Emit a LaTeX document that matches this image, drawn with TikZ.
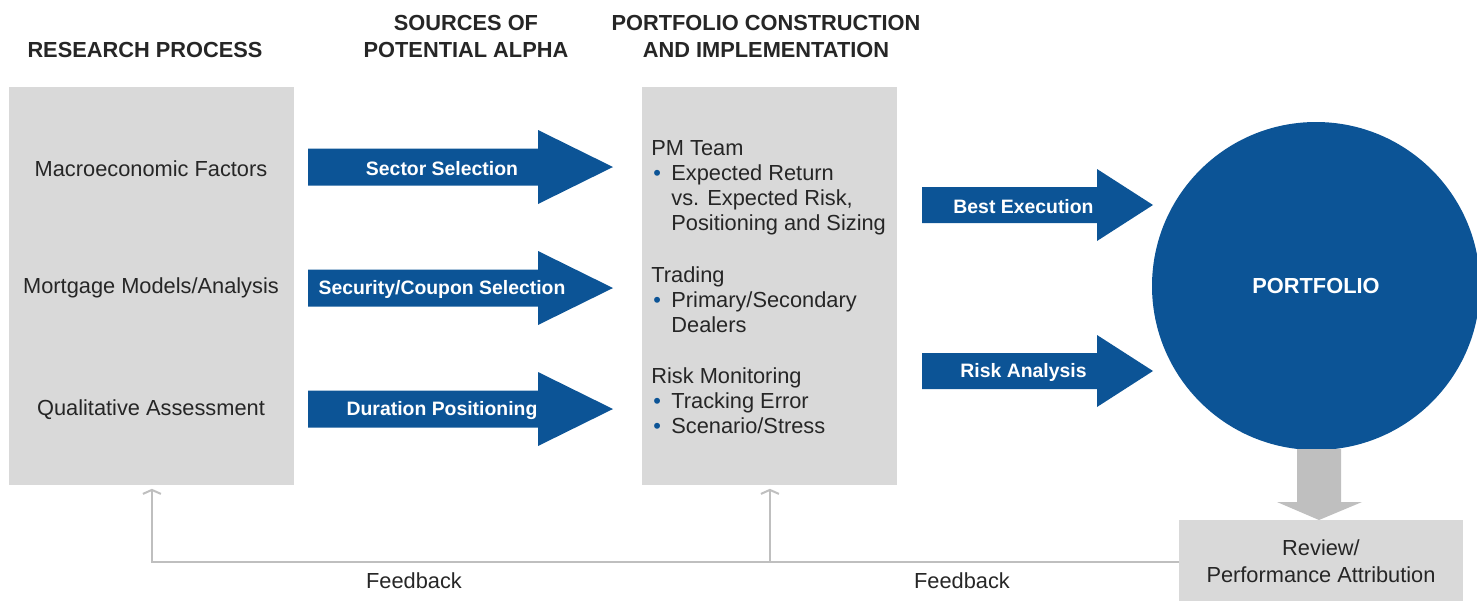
\documentclass[tikz,border=0pt]{standalone}
\usepackage{fontspec}
\setmainfont{Liberation Sans}
\usepackage{xcolor}
\usepackage{tikz}
\usetikzlibrary{arrows.meta,positioning}

\definecolor{pfblue}{RGB}{12,84,150}
\definecolor{boxgray}{RGB}{217,217,217}
\definecolor{linegray}{RGB}{191,191,191}
\definecolor{inkgray}{RGB}{38,38,38}

\newcommand{\headfont}{\fontsize{10.9pt}{13.5pt}\selectfont\bfseries}
\newcommand{\bodyfont}{\fontsize{10.9pt}{12.5pt}\selectfont}
\newcommand{\arrowfont}{\fontsize{9.7pt}{11pt}\selectfont\bfseries}
\newcommand{\bul}{\makebox[10pt][l]{\hspace{1pt}\textcolor{pfblue}{\textbullet}}}
\newcommand{\ind}{\hspace*{10pt}}

% block arrow: name, x left, x head base, x tip, y, half body, label x, label
\newcommand{\blockarrow}[8]{%
  \fill[pfblue] (#2,#5-#6) -- (#3,#5-#6) -- (#3,#5-2*#6) -- (#4,#5)
    -- (#3,#5+2*#6) -- (#3,#5+#6) -- (#2,#5+#6) -- cycle;
  \node[arrowlabel] (#1) at (#7,#5+1.5) {#8};
}

\begin{document}
\begin{tikzpicture}[
    x=0.5pt, y=-0.5pt,
    graybox/.style={rectangle, fill=boxgray, anchor=north west, inner sep=0pt},
    heading/.style={font=\headfont, align=center, text=inkgray, inner sep=0pt},
    bodytext/.style={font=\bodyfont, text=inkgray, inner sep=0pt},
    arrowlabel/.style={font=\arrowfont, text=white, inner sep=0pt},
    fbline/.style={draw=linegray, line width=1pt}
]
    \useasboundingbox (0,0) rectangle (1477,600);

    % headings
    \node[heading] (hresearch) at (145,49.5) {RESEARCH PROCESS};
    \node[heading] (hsources) at (466,36) {SOURCES OF\\POTENTIAL ALPHA};
    \node[heading] (hportcon) at (766,36) {PORTFOLIO CONSTRUCTION\\AND IMPLEMENTATION};

    % research box
    \node[graybox, minimum width=142.5pt, minimum height=199pt] (research) at (9,87) {};
    \node[bodytext] (macro) at (151,169) {Macroeconomic Factors};
    \node[bodytext] (mortgage) at (151,288) {Mortgage Models/Analysis};
    \node[bodytext] (qualit) at (151,410) {Qualitative Assessment};

    % portfolio construction box
    \node[graybox, minimum width=127.5pt, minimum height=199pt] (portcon) at (642,87) {};
    \node[bodytext, align=left, anchor=west] (pmteam) at (651,188)
        {PM Team\\\bul Expected Return\\\ind vs. Expected Risk,\\\ind Positioning and Sizing};
    \node[bodytext, align=left, anchor=west] (trading) at (651,300)
        {Trading\\\bul Primary/Secondary\\\ind Dealers};
    \node[bodytext, align=left, anchor=west] (riskmon) at (651,401)
        {Risk Monitoring\\\bul Tracking Error\\\bul Scenario/Stress};

    % sources of alpha
    \blockarrow{sector}{308}{538}{613}{167}{18.5}{442}{Sector Selection}
    \blockarrow{security}{308}{538}{613}{288}{18.5}{442}{Security/Coupon Selection}
    \blockarrow{duration}{308}{538}{613}{409}{18.5}{442}{Duration Positioning}

    % implementation
    \blockarrow{bestexec}{922}{1097}{1153}{205}{18}{1023.5}{Best Execution}
    \blockarrow{riskan}{922}{1097}{1153}{371}{18}{1023.5}{Risk Analysis}

    % portfolio and review
    \node[circle, fill=pfblue, minimum size=164pt, inner sep=0pt,
          text=white, font=\headfont] (portfolio) at (1316,286) {PORTFOLIO};
    \fill[linegray] (1297,449) -- (1341,449) -- (1341,502) -- (1362,502)
        -- (1319,520) -- (1277,502) -- (1297,502) -- cycle;
    \node[graybox, minimum width=142pt, minimum height=42pt] (review) at (1179,520) {};
    \node[bodytext, align=center, font=\fontsize{10.9pt}{13.5pt}\selectfont] (reviewtxt) at (1321,561)
        {Review/\\Performance Attribution};

    % feedback
    \draw[fbline, -{Straight Barb[length=2pt,width=9pt]}, shorten >=1.5pt]
        (review.west) -- (research.south |- review.west) -- (research.south);
    \draw[fbline, -{Straight Barb[length=2pt,width=9pt]}, shorten >=1.5pt]
        (portcon.south |- review.west) -- (portcon.south);
    \node[bodytext] (fbleft) at (414,581) {Feedback};
    \node[bodytext] (fbright) at (962,581) {Feedback};
\end{tikzpicture}
\end{document}
